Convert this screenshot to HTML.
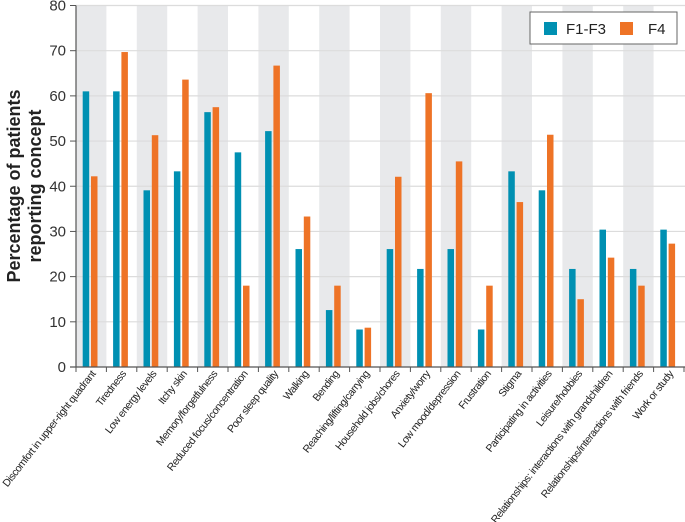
<!DOCTYPE html>
<html><head><meta charset="utf-8"><style>
body{margin:0;background:#fff}
svg{display:block;font-family:"Liberation Sans",Arial,sans-serif}
</style></head><body>
<svg id="chart" width="685" height="522">
<g id="bands"></g><g id="grid"></g><g id="bars"></g><g id="axes"></g><g id="labels"></g>
<text transform="translate(20,186) rotate(-90)" text-anchor="middle" font-size="18" font-weight="bold" fill="#222"><tspan x="0" dy="0">Percentage of patients</tspan><tspan x="0" dy="21">reporting concept</tspan></text>
<g>
<rect x="530" y="12" width="147" height="32" fill="#fff" stroke="#666" stroke-width="1"/>
<rect x="544" y="22" width="13" height="13" fill="#0090b2"/>
<text x="566" y="34" font-size="15" fill="#222">F1-F3</text>
<rect x="620" y="22" width="13" height="13" fill="#ee7326"/>
<text x="648" y="34" font-size="15" fill="#222">F4</text>
</g>
</svg>
<script>
const categories=["Discomfort in upper-right quadrant","Tiredness","Low energy levels","Itchy skin","Memory/forgetfulness","Reduced focus/concentration","Poor sleep quality","Walking","Bending","Reaching/lifting/carrying","Household jobs/chores","Anxiety/worry","Low mood/depression","Frustration","Stigma","Participating in activities","Leisure/hobbies","Relationships: interactions with grandchildren","Relationships/interactions with friends","Work or study"];
const seriesF1F3=[61,61,39.1,43.3,56.4,47.5,52.2,26.1,12.6,8.3,26.1,21.7,26.1,8.3,43.3,39.1,21.7,30.4,21.7,30.4];
const seriesF4=[42.2,69.7,51.3,63.6,57.5,18,66.7,33.3,18,8.7,42.1,60.6,45.5,18,36.5,51.4,15,24.2,18,27.3];
const yTicks=[0,10,20,30,40,50,60,70,80];
const NS="http://www.w3.org/2000/svg";
const x0=76,x1=684,y0=367,yTop=5.5,yMax=80;
const bw=(x1-x0)/categories.length;
const yS=v=>y0-(v/yMax)*(y0-yTop);
const xS=i=>x0+i*bw;
function mk(tag,attrs,parent){const e=document.createElementNS(NS,tag);for(const k in attrs)e.setAttribute(k,attrs[k]);document.getElementById(parent).appendChild(e);return e;}
categories.forEach((c,i)=>{
  if(i%2===0){const r=mk('rect',{x:xS(i),y:yTop,width:bw,height:y0-yTop,fill:'#e8e9eb'},'bands');
  
  }
});
yTicks.forEach(t=>{
  if(t>0){const l=mk('line',{x1:x0,x2:x1+1,y1:yS(t),y2:yS(t),stroke:'#dcdcdc','stroke-width':1.2},'grid');
  
  }
  const tk=mk('line',{x1:x0-6,x2:x0,y1:yS(t),y2:yS(t),stroke:'#555','stroke-width':1},'axes');
  
  
  const tx=mk('text',{x:x0-10,y:yS(t)+5,'text-anchor':'end','font-size':15,fill:'#333'},'axes');
  tx.textContent=t;
  
  
});
const bwid=6.5;
categories.forEach((c,i)=>{
  const b1=mk('rect',{x:xS(i)+6.7,y:yS(seriesF1F3[i]),width:bwid,height:y0-yS(seriesF1F3[i]),fill:'#0090b2'},'bars');
  
  
  const b2=mk('rect',{x:xS(i)+15,y:yS(seriesF4[i]),width:bwid,height:y0-yS(seriesF4[i]),fill:'#ee7326'},'bars');
  
  
  const cx=xS(i)+bw/2+5;
  const lb=mk('text',{x:0,y:0,transform:`translate(${cx},374) rotate(-52)`,'text-anchor':'end','font-size':10.5,fill:'#222','letter-spacing':'-0.45'},'labels');
  lb.textContent=c;
  
  
});
for(let i=0;i<=categories.length;i++){
  const t=mk('line',{x1:xS(i),x2:xS(i),y1:y0,y2:y0+5,stroke:'#555','stroke-width':1},'axes');
  
  
}
const ya=mk('line',{x1:x0,x2:x0,y1:yTop,y2:y0,stroke:'#555','stroke-width':1.2},'axes');


const xa=mk('line',{x1:x0-6,x2:x1+1,y1:y0,y2:y0,stroke:'#555','stroke-width':1.2},'axes');


</script>
</body></html>
